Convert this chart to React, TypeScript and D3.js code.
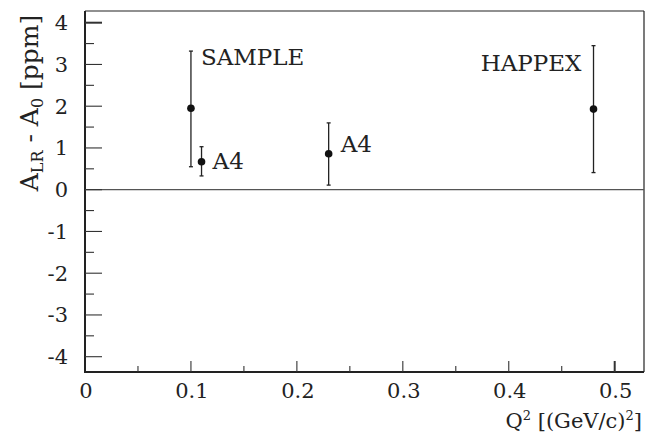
import React from "react";
import * as d3 from "d3";

const labels = ["SAMPLE", "A4", "A4", "HAPPEX"];
const q2 = [0.1, 0.11, 0.23, 0.48];
const asym = [1.95, 0.67, 0.86, 1.93];
const errLow = [0.55, 0.33, 0.11, 0.41];
const errHigh = [3.32, 1.03, 1.6, 3.45];
const xTicks = [0, 0.1, 0.2, 0.3, 0.4, 0.5];
const yTicks = [-4, -3, -2, -1, 0, 1, 2, 3, 4];

const W = 650, H = 434;
const left = 85, right = 644, top = 11, bottom = 372;

export default function App() {
  const x = d3.scaleLinear().domain([0, 0.5]).range([left, 614.7]);
  const y = d3.scaleLinear().domain([-4, 4]).range([356.7, 22.7]);
  const font = "'DejaVu Serif', serif";
  const xMinor = d3.range(0, 0.53, 0.05);
  const yMinor = d3.range(-4, 4.01, 0.5);
  const labelPos = [
    { dx: 10, dy: -43, anchor: "start" },
    { dx: 11, dy: 7, anchor: "start" },
    { dx: 12, dy: -2, anchor: "start" },
    { dx: -12, dy: -38, anchor: "end" },
  ];
  return (
    <svg width={W} height={H} style={{ position: "absolute", left: 0, top: 0, background: "#fff", fontFamily: font }}>
      <rect x={0} y={0} width={W} height={H} fill="#fff" />
      <line x1={left} x2={right} y1={top} y2={top} stroke="#222" strokeWidth={1.2} />
      <line x1={right} x2={right} y1={top} y2={bottom} stroke="#222" strokeWidth={1.2} />
      <line x1={left} x2={left} y1={top} y2={bottom} stroke="#222" strokeWidth={2} />
      <line x1={left - 1} x2={right} y1={bottom} y2={bottom} stroke="#222" strokeWidth={2} />
      <line x1={left} x2={right} y1={y(0)} y2={y(0)} stroke="#555" strokeWidth={1.2} />
      {yMinor.map((v, i) => {
        const major = Math.abs(v - Math.round(v)) < 1e-6;
        return (
          <line key={"ym" + i} x1={left} x2={left + (major ? 17 : 9)} y1={y(v)} y2={y(v)} stroke="#333" strokeWidth={major && v === 4 ? 2 : 1.1} />
        );
      })}
      {yTicks.map((v) => (
        <text key={"yl" + v} x={68} y={y(v) + 7.5} fontSize={21} textAnchor="end" fill="#222" style={{ fontFamily: font }}>
          {v}
        </text>
      ))}
      {xMinor.map((v, i) => {
        const major = i % 2 === 0;
        if (v === 0) return null;
        return (
          <line key={"xm" + i} x1={x(v)} x2={x(v)} y1={bottom} y2={bottom - (major ? 11 : 6)} stroke="#333" strokeWidth={major && Math.abs(v - 0.5) < 1e-6 ? 2 : 1.1} />
        );
      })}
      {xTicks.map((v) => (
        <text key={"xl" + v} x={x(v) + 1} y={398} fontSize={21} textAnchor="middle" fill="#222" style={{ fontFamily: font }}>
          {v}
        </text>
      ))}
      {q2.map((q, i) => (
        <g key={"p" + i}>
          <line x1={x(q)} x2={x(q)} y1={y(errLow[i])} y2={y(errHigh[i])} stroke="#222" strokeWidth={1.3} />
          <line x1={x(q) - 2} x2={x(q) + 2} y1={y(errLow[i])} y2={y(errLow[i])} stroke="#222" strokeWidth={1.3} />
          <line x1={x(q) - 2} x2={x(q) + 2} y1={y(errHigh[i])} y2={y(errHigh[i])} stroke="#222" strokeWidth={1.3} />
          <circle cx={x(q)} cy={y(asym[i])} r={3.8} fill="#111" />
          <text x={x(q) + labelPos[i].dx} y={y(asym[i]) + labelPos[i].dy} fontSize={23} textAnchor={labelPos[i].anchor as any} fill="#222" style={{ fontFamily: font }}>
            {labels[i]}
          </text>
        </g>
      ))}
      <text x={right - 2} y={428} fontSize={21} textAnchor="end" fill="#222" style={{ fontFamily: font }}>
        Q<tspan fontSize={13} dy={-8}>2</tspan>
        <tspan dy={8}> [(GeV/c)</tspan>
        <tspan fontSize={13} dy={-8}>2</tspan>
        <tspan dy={8}>]</tspan>
      </text>
      <text transform={`translate(38, 103) rotate(-90)`} fontSize={25} textAnchor="middle" fill="#222" style={{ fontFamily: font }}>
        A<tspan fontSize={16} dy={5}>LR</tspan>
        <tspan dy={-5}> - A</tspan>
        <tspan fontSize={16} dy={5}>0</tspan>
        <tspan dy={-5}> [ppm]</tspan>
      </text>
    </svg>
  );
}
